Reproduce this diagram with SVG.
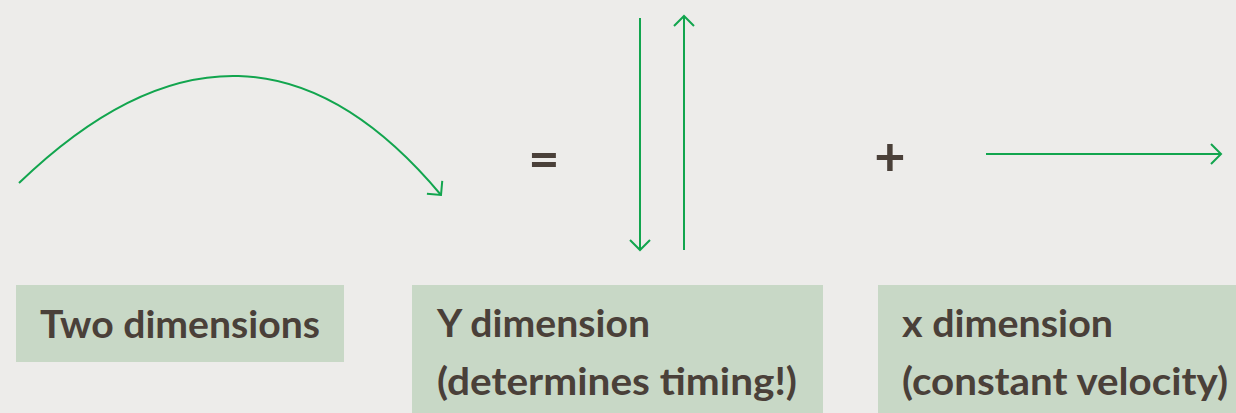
<svg xmlns="http://www.w3.org/2000/svg" width="1236" height="413" viewBox="0 0 1236 413">
<style>
.bg{fill:#edecea}
.box{fill:#c8d8c6}
.lbl{font-family:Lato,"Liberation Sans",sans-serif;font-weight:700;font-size:38px;fill:#4a4039}
.op{font-family:Lato,"Liberation Sans",sans-serif;font-weight:700;font-size:54px;fill:#4a4039;text-anchor:middle}
.arr{fill:none;stroke:#12a54e;stroke-width:2}
</style>
<defs>
<marker id="head" viewBox="-12 -12 14 24" markerWidth="14" markerHeight="24" refX="0" refY="0" orient="auto" markerUnits="userSpaceOnUse">
<path d="M-10,-10 L0,0 L-10,10" fill="none" stroke="#12a54e" stroke-width="2"/>
</marker>
</defs>
<rect class="bg" x="0" y="0" width="1236" height="413"/>
<g id="connectors">
<path class="arr" d="M19,183 Q247,-37 441,195" marker-end="url(#head)"/>
<path class="arr" d="M640,18 L640,250" marker-end="url(#head)"/>
<path class="arr" d="M684,250 L684,16" marker-end="url(#head)"/>
<path class="arr" d="M986,154 L1221,154" marker-end="url(#head)"/>
</g>
<g id="equals"><text class="op" x="544" y="178">=</text></g>
<g id="plus"><text class="op" x="890" y="176">+</text></g>
<g id="two-dimensions">
<rect class="box" x="16" y="285" width="328" height="77"/>
<text class="lbl" x="40" y="338" textLength="280" lengthAdjust="spacingAndGlyphs">Two dimensions</text>
</g>
<g id="y-dimension">
<rect class="box" x="412" y="285" width="411" height="128"/>
<text class="lbl" x="437" y="337" textLength="213" lengthAdjust="spacingAndGlyphs">Y dimension</text>
<text class="lbl" x="437" y="395" textLength="360" lengthAdjust="spacingAndGlyphs">(determines timing!)</text>
</g>
<g id="x-dimension">
<rect class="box" x="878" y="285" width="358" height="128"/>
<text class="lbl" x="902" y="337" textLength="211" lengthAdjust="spacingAndGlyphs">x dimension</text>
<text class="lbl" x="902" y="395" textLength="326" lengthAdjust="spacingAndGlyphs">(constant velocity)</text>
</g>
</svg>
